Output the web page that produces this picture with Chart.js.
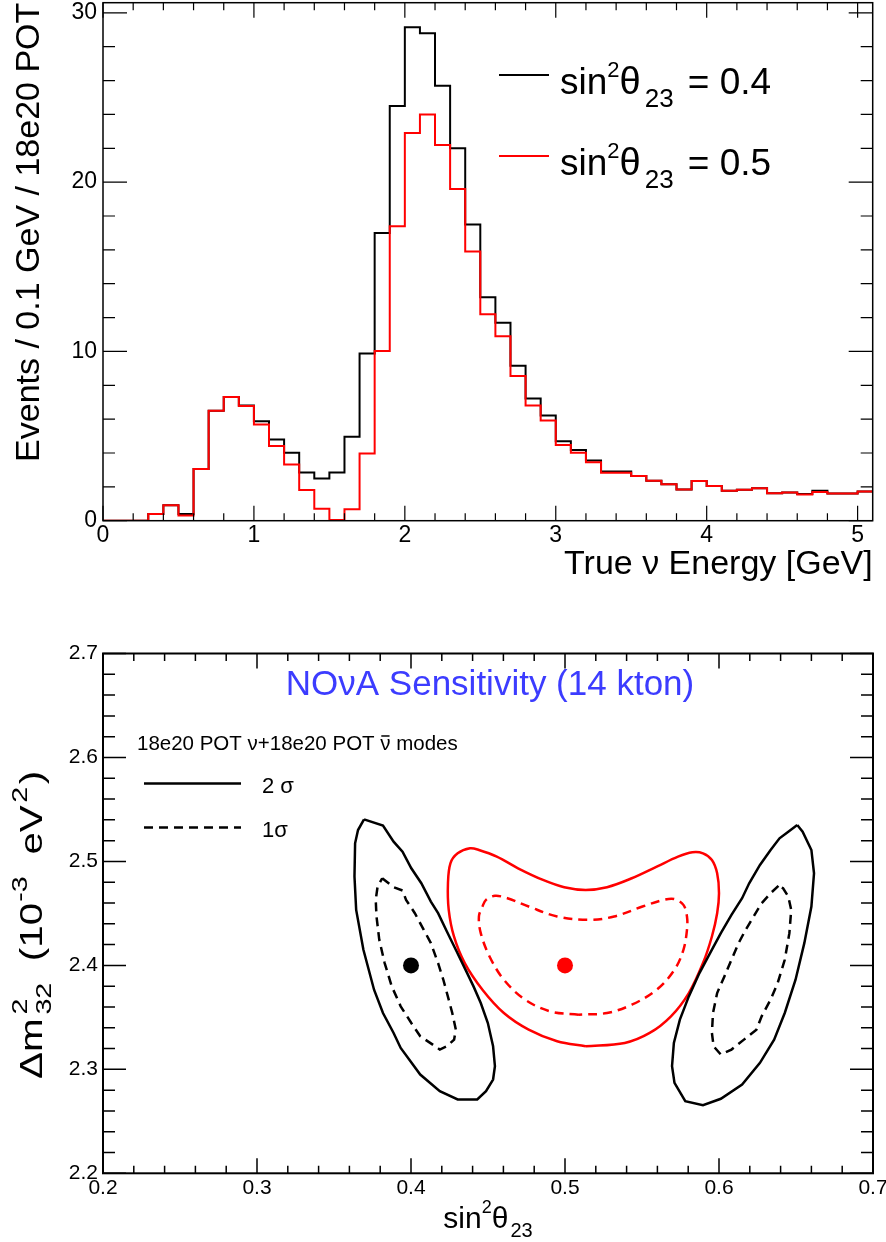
<!DOCTYPE html>
<html>
<head>
<meta charset="utf-8">
<title>NOvA sensitivity</title>
<script src="https://cdn.jsdelivr.net/npm/chart.js@4.4.1/dist/chart.umd.min.js"></script>
<style>
  html, body { margin: 0; padding: 0; background: #fff; }
  #wrap { position: relative; width: 886px; height: 1242px; }
  #spectrum { position: absolute; left: 0; top: 0; }
  #contours { position: absolute; left: 0; top: 600px; }
</style>
</head>
<body>
<div id="wrap">
  <canvas id="spectrum" width="886" height="600"></canvas>
  <canvas id="contours" width="886" height="642"></canvas>
</div>
<script>
var FONT = '"Liberation Sans", Arial, Helvetica, sans-serif';

// ---- top panel: true nu energy, 0.1 GeV bins ----
var binEdges = [0.0, 0.1, 0.2, 0.3, 0.4, 0.5, 0.6, 0.7, 0.8, 0.9,
  1.0, 1.1, 1.2, 1.3, 1.4, 1.5, 1.6, 1.7, 1.8, 1.9,
  2.0, 2.1, 2.2, 2.3, 2.4, 2.5, 2.6, 2.7, 2.8, 2.9,
  3.0, 3.1, 3.2, 3.3, 3.4, 3.5, 3.6, 3.7, 3.8, 3.9,
  4.0, 4.1, 4.2, 4.3, 4.4, 4.5, 4.6, 4.7, 4.8, 4.9,
  5.0, 5.1];

var eventsSin04 = [0, 0, 0, 0.4, 0.92, 0.39, 3.05, 6.5, 7.3, 6.8,
  5.88, 4.8, 4.01, 2.85, 2.5, 2.85, 4.96, 9.87, 17.0, 24.5,
  29.15, 28.8, 25.7, 22.0, 17.5, 13.2, 11.7, 9.15, 7.22, 6.22,
  4.7, 4.17, 3.56, 2.91, 2.91, 2.64, 2.36, 2.15, 1.85, 2.34,
  2.05, 1.77, 1.83, 1.91, 1.62, 1.67, 1.58, 1.77, 1.6, 1.6,
  1.73];

var eventsSin05 = [0, 0, 0, 0.4, 0.92, 0.3, 3.05, 6.5, 7.3, 6.77,
  5.68, 4.42, 3.32, 1.81, 0.71, 0.04, 0.67, 3.97, 10.03, 17.4,
  22.9, 24.0, 22.2, 19.6, 15.9, 12.2, 10.9, 8.55, 6.81, 5.92,
  4.47, 4.01, 3.46, 2.83, 2.83, 2.64, 2.36, 2.15, 1.85, 2.34,
  2.05, 1.77, 1.83, 1.91, 1.62, 1.67, 1.55, 1.69, 1.6, 1.6,
  1.73];

var sinValues = ['0.4', '0.5'];

// ---- bottom panel: sin^2(theta23) vs dm^2_32 contours ----
var bestFit04 = [[0.4, 2.4]];
var bestFit05 = [[0.5, 2.4]];

var left2Sigma = [[0.3695, 2.5405], [0.3818, 2.5344], [0.3887, 2.519], [0.3945, 2.5094], [0.4002, 2.4934],
  [0.4067, 2.479], [0.4129, 2.4614], [0.4176, 2.4502], [0.4233, 2.4326], [0.4291, 2.415],
  [0.4349, 2.3974], [0.4406, 2.3798], [0.4453, 2.3638], [0.4499, 2.3446], [0.4533, 2.3222],
  [0.4545, 2.303], [0.4533, 2.2902], [0.4487, 2.279], [0.443, 2.271], [0.4303, 2.271],
  [0.4187, 2.279], [0.406, 2.295], [0.3933, 2.3206], [0.3887, 2.335], [0.3818, 2.3542],
  [0.376, 2.3766], [0.3691, 2.415], [0.3644, 2.4534], [0.3633, 2.4854], [0.3637, 2.5174],
  [0.3656, 2.5302], [0.3695, 2.5405]];

var left1Sigma = [[0.3813, 2.4838], [0.3887, 2.4752], [0.3945, 2.472], [0.3968, 2.463], [0.4025, 2.4502],
  [0.4083, 2.4342], [0.4129, 2.4214], [0.4176, 2.4022], [0.421, 2.3862], [0.4245, 2.367],
  [0.4268, 2.3542], [0.4291, 2.3382], [0.428, 2.3286], [0.4233, 2.3222], [0.4187, 2.319],
  [0.4141, 2.3238], [0.406, 2.3318], [0.4002, 2.3446], [0.3933, 2.3606], [0.3875, 2.3798],
  [0.3829, 2.4022], [0.3794, 2.4246], [0.3776, 2.447], [0.3771, 2.463], [0.3783, 2.4758],
  [0.3813, 2.4838]];

var mid2Sigma = [[0.5134, 2.3222], [0.4949, 2.327], [0.4764, 2.3382], [0.4603, 2.3542], [0.4464, 2.3766],
  [0.4349, 2.4022], [0.4279, 2.4278], [0.4245, 2.4534], [0.424, 2.479], [0.4256, 2.4982],
  [0.4303, 2.5078], [0.4383, 2.5126], [0.4441, 2.511], [0.4557, 2.5046], [0.4695, 2.4934],
  [0.4857, 2.4822], [0.4995, 2.4752], [0.5134, 2.4726], [0.5273, 2.4752], [0.5434, 2.4838],
  [0.5596, 2.495], [0.5734, 2.5046], [0.5827, 2.5088], [0.5896, 2.5078], [0.5954, 2.5014],
  [0.5988, 2.4886], [0.6, 2.4694], [0.5988, 2.4502], [0.5954, 2.4278], [0.5896, 2.4022],
  [0.5804, 2.3734], [0.5688, 2.351], [0.555, 2.335], [0.5388, 2.3254], [0.5134, 2.3222]];

var mid1Sigma = [[0.5088, 2.3526], [0.4903, 2.3558], [0.4741, 2.367], [0.4603, 2.3862], [0.451, 2.4086],
  [0.4453, 2.431], [0.4441, 2.447], [0.4464, 2.4566], [0.4487, 2.463], [0.4545, 2.4669],
  [0.4626, 2.4646], [0.4764, 2.4566], [0.4949, 2.447], [0.5157, 2.4438], [0.5319, 2.447],
  [0.5503, 2.4566], [0.5642, 2.463], [0.5711, 2.4637], [0.5769, 2.4582], [0.5792, 2.447],
  [0.5792, 2.4342], [0.5769, 2.415], [0.5711, 2.3958], [0.5596, 2.3766], [0.5434, 2.3622],
  [0.5273, 2.3542], [0.5088, 2.3526]];

var right2Sigma = [[0.6508, 2.535], [0.645, 2.5286], [0.6393, 2.5222], [0.6335, 2.511], [0.6266, 2.4966],
  [0.6196, 2.479], [0.615, 2.4646], [0.6081, 2.4486], [0.6012, 2.431], [0.5942, 2.4118],
  [0.5873, 2.3926], [0.5804, 2.3702], [0.5746, 2.3478], [0.5707, 2.3254], [0.5695, 2.303],
  [0.5711, 2.287], [0.5781, 2.2694], [0.5896, 2.2656], [0.6012, 2.2717], [0.615, 2.2854],
  [0.6266, 2.3062], [0.6358, 2.3286], [0.6427, 2.3542], [0.6497, 2.3862], [0.6554, 2.4214],
  [0.66, 2.4566], [0.6617, 2.4886], [0.66, 2.511], [0.6543, 2.5286], [0.6508, 2.535]];

var right1Sigma = [[0.6386, 2.4765], [0.6335, 2.4694], [0.6277, 2.4598], [0.6231, 2.4486], [0.6173, 2.4342],
  [0.6127, 2.4214], [0.6081, 2.4054], [0.6035, 2.3894], [0.5988, 2.3734], [0.5961, 2.3542],
  [0.5954, 2.335], [0.5965, 2.3222], [0.6012, 2.3142], [0.6081, 2.319], [0.6162, 2.3286],
  [0.6243, 2.3382], [0.6277, 2.351], [0.6335, 2.367], [0.6381, 2.383], [0.6427, 2.4054],
  [0.6457, 2.431], [0.6469, 2.4534], [0.645, 2.4662], [0.6416, 2.4742], [0.6386, 2.4765]];

var sigmaLabels = ['2 σ', '1σ'];

function pts(list) {
  return list.map(function (p) { return {x: p[0], y: p[1]}; });
}

function histPoints(values) {
  // left bin edge carries the bin content, last edge closes the final bin
  return binEdges.map(function (e, i) {
    return {x: e, y: values[Math.min(i, values.length - 1)]};
  });
}

// text with super/subscripts, segments may be stacked (m^{2}_{32})
function drawRich(ctx, segs, x, y, opts) {
  opts = opts || {};
  ctx.save();
  ctx.translate(x, y);
  if (opts.angle) ctx.rotate(opts.angle);
  if (opts.stretch) ctx.scale(opts.stretch, 1);
  ctx.fillStyle = opts.color || '#000';
  ctx.textAlign = 'left';
  ctx.textBaseline = 'alphabetic';
  var items = segs.map(function (sg) {
    var parts = sg.stack || [sg];
    parts.forEach(function (p) {
      ctx.font = p.s + 'px ' + FONT;
      p.w = ctx.measureText(p.t).width;
    });
    return {parts: parts, w: Math.max.apply(null, parts.map(function (p) { return p.w; })) + (sg.gap || 0)};
  });
  var total = items.reduce(function (a, it) { return a + it.w; }, 0);
  var cx = opts.align === 'center' ? -total / 2 : (opts.align === 'right' ? -total : 0);
  items.forEach(function (it) {
    it.parts.forEach(function (p) {
      ctx.font = p.s + 'px ' + FONT;
      ctx.fillText(p.t, cx, p.dy || 0);
      if (p.bar) ctx.fillRect(cx + 1, (p.dy || 0) - p.s * 0.72, p.w - 2, 1.5);
    });
    cx += it.w;
  });
  ctx.restore();
}

function eachStep(min, max, step, fn) {
  var k0 = Math.ceil(min / step - 1e-6), k1 = Math.floor(max / step + 1e-6);
  for (var k = k0; k <= k1; k++) fn(k * step, k);
}

// ROOT style frame with inward ticks on all four sides
var rootFrame = {
  id: 'rootFrame',
  afterDatasetsDraw: function (chart, args, o) {
    var ctx = chart.ctx, a = chart.chartArea, sx = chart.scales.x, sy = chart.scales.y;
    ctx.save();
    ctx.strokeStyle = '#000';
    ctx.lineWidth = o.tickWidth;
    ctx.beginPath();
    eachStep(sx.min, sx.max, o.xMinor, function (v) {
      var major = Math.abs(v / o.xMajor - Math.round(v / o.xMajor)) < 1e-6;
      var len = major ? o.xLen[0] : o.xLen[1];
      var px = sx.getPixelForValue(v);
      ctx.moveTo(px, a.bottom); ctx.lineTo(px, a.bottom - len);
      ctx.moveTo(px, a.top); ctx.lineTo(px, a.top + len);
    });
    eachStep(sy.min, sy.max, o.yMinor, function (v) {
      var major = Math.abs(v / o.yMajor - Math.round(v / o.yMajor)) < 1e-6;
      var len = major ? o.yLen[0] : o.yLen[1];
      var py = sy.getPixelForValue(v);
      ctx.moveTo(a.left, py); ctx.lineTo(a.left + len, py);
      ctx.moveTo(a.right, py); ctx.lineTo(a.right - len, py);
    });
    ctx.stroke();
    ctx.lineWidth = o.lineWidth;
    ctx.strokeRect(a.left, a.top, a.right - a.left, a.bottom - a.top);
    ctx.restore();
  }
};

var spectrumLegend = {
  id: 'spectrumLegend',
  afterDraw: function (chart) {
    var ctx = chart.ctx;
    chart.data.datasets.forEach(function (ds, i) {
      var yLine = 75 + i * 81;
      ctx.save();
      ctx.strokeStyle = ds.borderColor;
      ctx.lineWidth = 2;
      ctx.beginPath();
      ctx.moveTo(499, yLine);
      ctx.lineTo(549, yLine);
      ctx.stroke();
      ctx.restore();
      drawRich(ctx, [
        {t: 'sin', s: 37},
        {t: '2', s: 22, dy: -17},
        {t: 'θ', s: 38, gap: 4},
        {t: '23', s: 26, dy: 13, gap: 4},
        {t: ' = ' + sinValues[i], s: 37}
      ], 560, yLine + 18.5);
    });
  }
};

var contourText = {
  id: 'contourText',
  afterDraw: function (chart) {
    var ctx = chart.ctx, a = chart.chartArea;
    drawRich(ctx, [{t: 'NOνA Sensitivity (14 kton)', s: 35}], (a.left + a.right) / 2 + 2, 95,
      {align: 'center', color: '#3c3cff'});
    drawRich(ctx, [
      {t: '18e20 POT ν+18e20 POT ', s: 20.5},
      {t: 'ν', s: 20.5, bar: true},
      {t: ' modes', s: 20.5}
    ], 137, 150);

    var styles = [[], [9, 6]];
    sigmaLabels.forEach(function (lab, i) {
      var yLine = 183.5 + i * 44;
      ctx.save();
      ctx.strokeStyle = '#000';
      ctx.lineWidth = 2.5;
      ctx.setLineDash(styles[i]);
      ctx.beginPath();
      ctx.moveTo(144, yLine);
      ctx.lineTo(241, yLine);
      ctx.stroke();
      ctx.restore();
      drawRich(ctx, [{t: lab, s: 22}], 262, yLine + 9.5);
    });

    // axis titles
    drawRich(ctx, [
      {t: 'sin', s: 30},
      {t: '2', s: 18, dy: -15},
      {t: 'θ', s: 30, gap: 2},
      {t: '23', s: 20, dy: 9}
    ], (a.left + a.right) / 2, a.bottom + 55, {align: 'center'});

    drawRich(ctx, [
      {t: 'Δm', s: 31, gap: 3},
      {stack: [{t: '2', s: 22, dy: -15}, {t: '32', s: 22, dy: 9}], gap: 8},
      {t: ' (10', s: 31, gap: 1},
      {t: '-3', s: 22, dy: -15, gap: 8},
      {t: ' eV', s: 31, gap: 2},
      {t: '2', s: 22, dy: -15, gap: 2},
      {t: ')', s: 31}
    ], a.left - 61, (a.top + a.bottom) / 2 + 11.5, {align: 'center', angle: -Math.PI / 2, stretch: 1.3});
  }
};

function tickFont(size) {
  return {family: FONT, size: size};
}

new Chart(document.getElementById('spectrum'), {
  type: 'line',
  data: {
    datasets: [{
      label: 'sin2 theta23 = 0.4',
      data: histPoints(eventsSin04),
      borderColor: '#000000',
      borderWidth: 2,
      pointRadius: 0,
      stepped: 'before',
      fill: false,
      order: 1
    }, {
      label: 'sin2 theta23 = 0.5',
      data: histPoints(eventsSin05),
      borderColor: '#ff0000',
      borderWidth: 2,
      pointRadius: 0,
      stepped: 'before',
      fill: false,
      order: 0
    }]
  },
  options: {
    responsive: false,
    animation: false,
    events: [],
    layout: {padding: {left: 0, top: 2.7, right: 13.3, bottom: 0}},
    plugins: {
      legend: {display: false},
      tooltip: {enabled: false},
      rootFrame: {xMajor: 1, xMinor: 0.2, xLen: [15, 7.5], yMajor: 10, yMinor: 2, yLen: [24, 12], lineWidth: 1.5, tickWidth: 1.2}
    },
    scales: {
      x: {
        type: 'linear', min: 0, max: 5.1,
        grid: {display: false, drawTicks: false},
        border: {display: false},
        ticks: {stepSize: 1, includeBounds: false, padding: 1.5, color: '#000', font: tickFont(23), maxRotation: 0, autoSkip: false},
        title: {display: true, text: 'True ν Energy [GeV]', align: 'end', color: '#000', font: {family: FONT, size: 34}, padding: {top: 0, bottom: 14.7}},
        afterFit: function (s) { s.height = 600 - 520.7; s.paddingLeft = 0; s.paddingRight = 0; }
      },
      y: {
        type: 'linear', min: 0, max: 30.6,
        grid: {display: false, drawTicks: false},
        border: {display: false},
        ticks: {stepSize: 10, includeBounds: false, padding: 6, color: '#000', font: tickFont(23)},
        title: {display: true, text: 'Events / 0.1 GeV / 18e20 POT', align: 'end', color: '#000', font: {family: FONT, size: 34}, padding: {top: 9.5, bottom: 0}},
        afterFit: function (s) { s.width = 103; s.paddingTop = 0; s.paddingBottom = 0; }
      }
    }
  },
  plugins: [rootFrame, spectrumLegend]
});

function contourSet(list, color, dashed, tension) {
  return {
    data: pts(list),
    showLine: true,
    borderColor: color,
    borderWidth: 2.5,
    borderDash: dashed ? [9, 6] : [],
    tension: tension,
    pointRadius: 0,
    fill: false
  };
}

function markerSet(list, color) {
  return {
    data: pts(list),
    showLine: false,
    pointRadius: 8,
    pointBorderWidth: 0,
    pointBackgroundColor: color,
    borderColor: color
  };
}

new Chart(document.getElementById('contours'), {
  type: 'scatter',
  data: {
    datasets: [
      contourSet(left2Sigma, '#000000', false, 0),
      contourSet(left1Sigma, '#000000', true, 0),
      contourSet(right2Sigma, '#000000', false, 0),
      contourSet(right1Sigma, '#000000', true, 0),
      contourSet(mid2Sigma, '#ff0000', false, 0.35),
      contourSet(mid1Sigma, '#ff0000', true, 0.35),
      markerSet(bestFit04, '#000000'),
      markerSet(bestFit05, '#ff0000')
    ]
  },
  options: {
    responsive: false,
    animation: false,
    events: [],
    layout: {padding: {left: 0, top: 53.5, right: 13, bottom: 0}},
    plugins: {
      legend: {display: false},
      tooltip: {enabled: false},
      rootFrame: {xMajor: 0.1, xMinor: 0.02, xLen: [15, 7.5], yMajor: 0.1, yMinor: 0.02, yLen: [23, 12], lineWidth: 2, tickWidth: 1.5}
    },
    scales: {
      x: {
        type: 'linear', min: 0.2, max: 0.7,
        grid: {display: false, drawTicks: false},
        border: {display: false},
        ticks: {stepSize: 0.1, padding: 2.4, color: '#000', font: tickFont(21), maxRotation: 0, autoSkip: false},
        afterFit: function (s) { s.height = 642 - 573.3; s.paddingLeft = 0; s.paddingRight = 0; }
      },
      y: {
        type: 'linear', min: 2.2, max: 2.7,
        grid: {display: false, drawTicks: false},
        border: {display: false},
        ticks: {stepSize: 0.1, padding: 5, color: '#000', font: tickFont(21)},
        afterFit: function (s) { s.width = 103; s.paddingTop = 0; s.paddingBottom = 0; }
      }
    }
  },
  plugins: [rootFrame, contourText]
});
</script>
</body>
</html>
